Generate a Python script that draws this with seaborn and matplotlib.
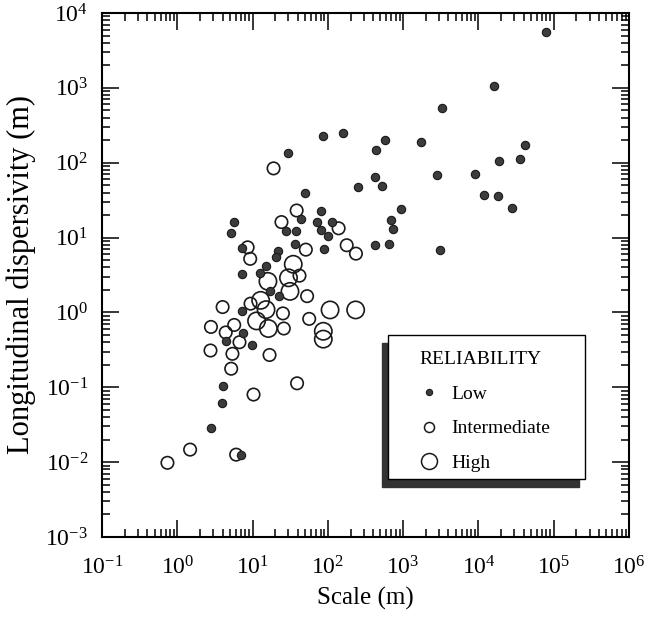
import numpy as np
import pandas as pd
import matplotlib
matplotlib.use("Agg")
import matplotlib.pyplot as plt
import seaborn as sns
from matplotlib.lines import Line2D
from matplotlib.patches import Rectangle
from matplotlib.ticker import LogLocator, NullFormatter, LogFormatterSciNotation, FixedLocator

# ---------------- data ----------------
low_scale = [7.8e4, 1.6e4, 3300, 87, 160, 29.5, 570, 440, 1730, 4.2e4, 1.85e4, 3.6e4,
             420, 520, 253, 2800, 8900, 1.18e4, 1.8e4, 2.8e4, 935, 690, 725, 425, 645,
             3060, 50, 82, 44, 71, 114, 28, 38, 82, 99, 37, 90, 5.6, 5.2, 7.3, 22, 20.5,
             15, 12.7, 7.2, 17, 22.4, 7.2, 7.4, 4.4, 9.7, 4.1, 3.9, 2.8, 7.0]
low_disp = [5500, 1050, 545, 225, 253, 134, 204, 149, 192, 170, 104, 111,
            64, 49, 48, 69, 71, 36.7, 35.8, 25, 24.3, 17, 13.2, 7.9, 8.1,
            6.9, 40, 22.4, 17.5, 16.3, 16.2, 12.4, 12.1, 12.5, 10.4, 8.1, 7.0, 16.1, 11.4, 7.3, 6.7, 5.5,
            4.2, 3.4, 3.3, 1.94, 1.65, 1.04, 0.53, 0.42, 0.37, 0.103, 0.062, 0.029, 0.0123]

int_scale = [19, 38.5, 24.2, 139, 8.6, 51, 178, 236, 9.3, 42, 53, 9.4, 4.0, 25.3, 56.5,
             5.7, 2.8, 4.4, 26, 6.7, 2.76, 5.4, 16.8, 5.2, 39, 10.3, 1.48, 0.74, 6.05]
int_disp = [84, 23, 16.1, 13.3, 7.4, 6.9, 7.9, 6.1, 5.2, 3.1, 1.65, 1.31, 1.18, 0.97, 0.82,
            0.68, 0.64, 0.54, 0.61, 0.40, 0.31, 0.28, 0.27, 0.177, 0.113, 0.080, 0.0147, 0.0098, 0.0126]

high_scale = [16, 30, 34.7, 31.4, 12.8, 15.1, 11.3, 16.2, 107, 234, 87, 87]
high_disp = [2.6, 2.9, 4.4, 1.91, 1.45, 1.09, 0.77, 0.61, 1.08, 1.08, 0.56, 0.44]

categories = ["Low", "Intermediate", "High"]
legend_title = "RELIABILITY"
x_label = "Scale (m)"
y_label = "Longitudinal dispersivity (m)"
x_decades = [1e-1, 1e0, 1e1, 1e2, 1e3, 1e4, 1e5, 1e6]
y_decades = [1e-3, 1e-2, 1e-1, 1e0, 1e1, 1e2, 1e3, 1e4]

df = pd.DataFrame({
    "scale": low_scale + int_scale + high_scale,
    "disp": low_disp + int_disp + high_disp,
    "reliability": (["Low"] * len(low_scale) + ["Intermediate"] * len(int_scale)
                    + ["High"] * len(high_scale)),
})

# ---------------- style ----------------
sns.set_theme(style="ticks")
plt.rcParams["font.family"] = ["Liberation Serif", "DejaVu Serif"]
plt.rcParams["mathtext.fontset"] = "custom"
plt.rcParams["mathtext.rm"] = "Liberation Serif"
plt.rcParams["mathtext.it"] = "Liberation Serif:italic"
plt.rcParams["mathtext.bf"] = "Liberation Serif:bold"
plt.rcParams["text.color"] = "black"
plt.rcParams["axes.labelcolor"] = "black"
plt.rcParams["xtick.color"] = "black"
plt.rcParams["ytick.color"] = "black"

fig = plt.figure(figsize=(6.5, 6.17), dpi=100)
ax = fig.add_axes([102 / 650, 80 / 617, 527 / 650, 524 / 617])

sns.scatterplot(data=df[df.reliability == "High"], x="scale", y="disp", ax=ax,
                s=155, facecolors="none", edgecolor="#1a1a1a", linewidth=1.2,
                legend=False, zorder=3)
sns.scatterplot(data=df[df.reliability == "Intermediate"], x="scale", y="disp", ax=ax,
                s=80, facecolors="none", edgecolor="#1a1a1a", linewidth=1.2,
                legend=False, zorder=3)
sns.scatterplot(data=df[df.reliability == "Low"], x="scale", y="disp", ax=ax,
                s=36, color="#3c3c3c", edgecolor="#1a1a1a", linewidth=0.8,
                legend=False, zorder=4)

ax.set_xscale("log")
ax.set_yscale("log")
ax.set_xlim(x_decades[0], x_decades[-1])
ax.set_ylim(y_decades[0], y_decades[-1])

for a, dec in ((ax.xaxis, x_decades), (ax.yaxis, y_decades)):
    a.set_major_locator(FixedLocator(dec))
    a.set_minor_locator(LogLocator(base=10, subs=np.arange(2, 10), numticks=20))
    a.set_minor_formatter(NullFormatter())
    a.set_major_formatter(LogFormatterSciNotation())

ax.tick_params(which="both", direction="in", top=True, right=True, width=1.1,
               colors="black")
ax.tick_params(which="major", length=12, labelsize=17)
ax.tick_params(axis="x", which="major", pad=14)
ax.tick_params(axis="y", which="major", pad=10)
ax.tick_params(which="minor", length=6)
for sp in ax.spines.values():
    sp.set_linewidth(1.5)
    sp.set_color("black")

ax.set_xlabel(x_label, fontsize=18, labelpad=5)
ax.set_ylabel(y_label, fontsize=22, labelpad=7)

# ---------------- legend box with drop shadow ----------------
bx0, bw = (388 - 102) / 527, (585 - 388) / 527
by0, bh = (537 - 479) / 524, (479 - 335) / 524
ax.add_patch(Rectangle((bx0 - 6 / 527, by0 - 8 / 524), bw, bh, transform=ax.transAxes,
                       facecolor="#333333", edgecolor="#333333", zorder=6))
ax.add_patch(Rectangle((bx0, by0), bw, bh, transform=ax.transAxes,
                       facecolor="white", edgecolor="black", linewidth=1.0, zorder=7))

handles = [
    Line2D([], [], linestyle="none", marker="o", markersize=4.5,
           markerfacecolor="#3c3c3c", markeredgecolor="#1a1a1a", markeredgewidth=0.8),
    Line2D([], [], linestyle="none", marker="o", markersize=7.2,
           markerfacecolor="none", markeredgecolor="#1a1a1a", markeredgewidth=1.1),
    Line2D([], [], linestyle="none", marker="o", markersize=11.5,
           markerfacecolor="none", markeredgecolor="#1a1a1a", markeredgewidth=1.1),
]
leg = ax.legend(handles, categories, title=legend_title, loc="upper left",
                bbox_to_anchor=((419 - 102) / 527, (537 - 351) / 524),
                frameon=False, fontsize=14, title_fontsize=14, borderpad=0,
                borderaxespad=0, handlelength=1.0, handletextpad=0.65,
                labelspacing=0.88, alignment="left")
leg.set_zorder(8)

fig.savefig("out.png", dpi=100)
